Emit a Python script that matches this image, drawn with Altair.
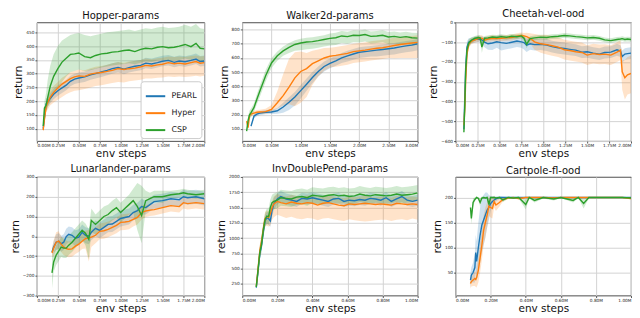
import altair as alt
import pandas as pd

SERIES = ["PEARL", "Hyper", "CSP"]
COLORS = ["#1f77b4", "#ff7f0e", "#2ca02c"]

# ---------------- Hopper-params ----------------
HOP_X = [0.075,0.09,0.11,0.13,0.16,0.2,0.25,0.3,0.35,0.4,0.45,0.5,0.57,0.64,0.7,0.77,0.84,0.9,0.97,1.04,1.1,1.17,1.24,1.3,1.37,1.44,1.5,1.57,1.64,1.7,1.77,1.84,1.9,1.95,2.0]
HOP_PEARL = [100,140,190,198,210,225,238,248,258,272,280,284,288,296,300,306,312,318,322,316,322,327,330,338,335,340,345,348,341,346,343,348,353,344,346]
HOP_PEARL_DN = [8,15,20,18,18,18,18,18,18,18,18,18,18,18,18,18,18,18,18,18,18,18,18,18,18,18,18,18,18,18,18,18,18,18,18]
HOP_PEARL_UP = [10,15,20,18,20,20,20,20,20,20,20,20,20,20,20,20,20,20,20,20,20,20,20,20,20,20,20,20,20,20,20,20,20,20,20]
HOP_HYPER = [95,135,180,195,215,232,248,262,272,282,288,292,290,298,302,304,308,312,318,315,318,320,325,330,328,332,334,340,336,338,335,340,344,338,340]
HOP_HYPER_DN = [6,20,20,25,30,37,43,47,47,50,50,52,46,48,47,46,46,46,48,47,46,45,47,48,46,47,48,50,48,48,47,50,52,48,48]
HOP_HYPER_UP = [10,15,20,20,25,23,22,23,23,23,22,23,22,22,23,24,24,26,24,25,26,26,25,25,24,24,24,22,24,24,25,24,22,24,24]
HOP_CSP = [110,175,185,215,255,290,318,342,356,370,372,375,362,358,366,372,374,378,380,384,386,380,388,392,390,396,398,394,396,400,406,398,410,392,390]
HOP_CSP_DN = [10,25,25,35,55,65,68,72,66,65,62,60,52,46,48,50,48,48,48,49,48,46,48,48,48,48,48,48,48,50,51,48,52,47,48]
HOP_CSP_UP = [15,25,45,65,75,80,82,78,74,70,73,73,78,78,74,73,76,74,75,74,74,75,72,73,72,72,72,72,72,70,72,72,70,73,72]

# ---------------- Walker2d-params ----------------
WAL_X = [0.075,0.1,0.125,0.15,0.2,0.25,0.3,0.4,0.5,0.6,0.7,0.8,0.9,1.0,1.1,1.2,1.3,1.4,1.5,1.6,1.7,1.8,1.9,2.0,2.1,2.2,2.3,2.4,2.5,2.6,2.7,2.8,2.9,3.0]
WAL_PEARL = [None,None,None,120,190,205,212,218,220,228,255,288,325,370,415,462,505,540,562,580,600,615,628,640,645,650,655,660,665,670,678,685,690,700]
WAL_PEARL_DN = [0,0,0,10,15,15,15,15,15,20,40,55,60,55,45,40,35,35,35,35,35,40,40,40,40,40,45,45,45,45,45,45,45,45]
WAL_PEARL_UP = [0,0,0,10,15,15,15,15,15,20,30,35,35,40,40,40,35,35,35,35,35,35,35,35,35,35,35,35,35,35,35,35,35,35]
WAL_HYPER = [155,110,195,205,212,218,220,222,238,285,335,395,460,505,525,560,580,600,612,618,625,632,645,650,655,662,668,672,680,688,695,700,705,710]
WAL_HYPER_DN = [10,15,15,15,15,15,15,15,20,40,70,120,200,220,200,150,110,90,80,80,80,80,80,80,80,80,80,80,80,90,95,100,105,110]
WAL_HYPER_UP = [10,15,15,15,15,15,15,20,30,80,150,200,180,140,110,90,80,70,60,60,60,60,55,55,55,55,55,55,55,55,50,50,50,50]
WAL_CSP = [85,160,200,215,250,310,365,475,565,615,650,675,695,705,712,715,722,730,738,742,755,750,760,758,765,752,755,760,748,752,745,750,742,740]
WAL_CSP_DN = [10,30,30,30,30,35,40,40,35,35,35,40,45,50,50,50,50,50,50,50,50,50,50,50,50,50,50,50,50,50,50,50,50,50]
WAL_CSP_UP = [10,30,30,30,30,35,40,40,35,30,30,30,30,30,30,30,30,30,35,35,35,35,35,35,35,35,35,35,35,35,35,35,35,35]

# ---------------- Cheetah-vel-ood ----------------
CHE_X = [0.095,0.105,0.115,0.13,0.15,0.18,0.22,0.26,0.28,0.3,0.33,0.37,0.42,0.47,0.52,0.58,0.64,0.7,0.75,0.78,0.81,0.85,0.9,0.97,1.04,1.1,1.17,1.24,1.3,1.37,1.44,1.5,1.57,1.64,1.7,1.77,1.84,1.88,1.9,1.93,1.96,2.0]
CHE_PEARL = [-540,-380,-230,-125,-100,-92,-86,-84,-86,-88,-100,-108,-104,-98,-102,-106,-100,-94,-98,-102,-115,-108,-112,-110,-114,-122,-128,-132,-136,-140,-150,-148,-155,-160,-152,-150,-138,-145,-172,-160,-158,-155]
CHE_PEARL_SD = [10,40,40,30,20,15,15,15,15,20,25,30,35,30,40,30,30,30,30,35,35,30,30,30,30,30,30,30,30,30,30,30,30,30,30,30,30,30,30,30,30,30]
CHE_HYPER = [-520,-440,-300,-160,-110,-95,-88,-82,-80,-80,-90,-84,-80,-82,-80,-78,-76,-70,-66,-68,-72,-80,-98,-108,-112,-118,-125,-138,-142,-148,-152,-165,-158,-162,-160,-165,-150,-140,-250,-280,-265,-258]
CHE_HYPER_DN = [20,40,40,30,20,15,15,15,15,15,15,15,15,15,15,15,15,15,15,15,20,25,40,45,50,50,50,50,50,50,50,50,50,50,50,50,50,50,90,110,100,100]
CHE_HYPER_UP = [20,40,40,30,20,15,15,15,15,15,15,15,15,15,15,15,15,15,15,15,20,25,40,45,50,50,50,50,50,50,50,50,50,50,50,50,50,50,60,90,90,90]
CHE_CSP = [-555,-420,-250,-140,-105,-90,-80,-76,-78,-125,-80,-78,-74,-76,-72,-75,-70,-72,-68,-80,-110,-82,-78,-74,-76,-72,-70,-66,-68,-72,-74,-78,-76,-80,-88,-92,-86,-84,-82,-86,-84,-86]
CHE_CSP_SD = [10,40,40,30,20,15,12,12,12,30,12,12,12,12,12,12,12,12,12,15,20,12,12,12,12,12,12,12,12,12,12,12,12,12,12,12,12,12,12,12,12,12]

# ---------------- Lunarlander-params ----------------
LUN_X = [0.18,0.2,0.23,0.26,0.29,0.32,0.35,0.38,0.42,0.46,0.5,0.54,0.58,0.62,0.65,0.7,0.75,0.8,0.85,0.9,0.95,1.0,1.05,1.1,1.15,1.2,1.25,1.3,1.35,1.4,1.5,1.6,1.7,1.75,1.8,1.9,2.0]
LUN_PEARL = [-80,-55,-30,-25,-38,-30,-2,10,5,-10,-5,20,5,0,20,40,30,45,60,62,75,90,95,100,120,130,150,145,160,175,180,190,185,200,195,200,190]
LUN_PEARL_SD = [20,30,40,40,40,40,40,40,40,40,40,40,40,40,40,40,40,40,40,40,40,40,40,40,40,40,40,35,35,35,35,35,35,35,35,35,35]
LUN_HYPER = [-85,-60,-30,-25,-40,-55,-62,-66,-64,-50,-40,-25,-12,-8,-4,5,25,28,35,45,55,70,72,75,85,95,120,128,132,135,145,155,150,170,165,170,165]
LUN_HYPER_DN = [20,40,40,40,40,40,40,40,40,40,40,40,50,120,50,40,40,40,40,40,40,40,40,40,35,35,35,30,30,30,30,30,30,30,30,30,30]
LUN_HYPER_UP = [20,40,50,50,40,40,40,40,40,40,40,40,40,40,40,40,40,40,40,40,40,40,40,40,35,35,35,30,30,30,30,30,30,30,30,30,30]
LUN_CSP = [-185,-130,-95,-75,-55,-60,-60,-45,-30,-10,10,30,15,-15,80,60,80,100,110,130,145,120,140,160,180,150,105,180,190,200,200,210,215,220,215,210,215]
LUN_CSP_DN = [80,50,50,50,50,50,50,50,50,50,50,50,60,100,60,50,50,50,50,50,50,50,50,50,60,120,140,50,30,30,30,20,20,20,20,20,20]
LUN_CSP_UP = [80,50,50,50,50,50,50,50,50,50,50,50,50,50,60,50,50,50,50,50,50,50,50,50,60,120,150,50,30,30,30,20,20,20,20,20,20]

# ---------------- InvDoublePend-params ----------------
INV_X = [0.08,0.09,0.1,0.11,0.12,0.13,0.14,0.15,0.16,0.17,0.18,0.2,0.22,0.25,0.28,0.31,0.34,0.37,0.4,0.43,0.46,0.49,0.52,0.55,0.58,0.61,0.64,0.67,0.7,0.73,0.76,0.79,0.82,0.85,0.88,0.91,0.94,0.97,1.0]
INV_PEARL = [190,450,740,880,1100,1280,1330,1320,1280,1450,1560,1640,1680,1640,1620,1600,1650,1640,1660,1640,1620,1600,1640,1650,1600,1620,1610,1630,1620,1650,1640,1620,1660,1600,1640,1680,1620,1600,1620]
INV_PEARL_SD = [30,80,100,100,100,100,100,100,100,100,100,90,90,90,90,90,90,90,90,90,90,90,90,90,90,90,90,90,90,90,90,90,90,90,90,90,90,90,90]
INV_HYPER = [210,500,790,950,1150,1320,1350,1340,1400,1500,1560,1600,1580,1560,1590,1570,1560,1580,1570,1540,1570,1580,1560,1540,1530,1560,1550,1560,1570,1560,1550,1560,1550,1540,1570,1560,1550,1560,1550]
INV_HYPER_DN = [30,80,100,100,100,120,150,150,200,200,220,220,220,230,240,250,250,250,250,250,250,250,250,250,250,250,260,280,300,280,260,260,250,260,270,250,260,240,250]
INV_HYPER_UP = [30,80,100,100,100,100,100,100,100,100,120,120,120,120,120,120,120,120,120,120,120,120,120,120,120,120,120,120,120,120,120,120,120,120,120,120,120,120,120]
INV_CSP = [200,480,760,900,1130,1300,1360,1350,1500,1580,1600,1620,1660,1650,1640,1670,1680,1660,1700,1690,1680,1700,1710,1690,1700,1680,1690,1720,1700,1690,1710,1700,1690,1700,1720,1700,1710,1720,1740]
INV_CSP_SD = [30,100,120,120,120,120,120,130,130,130,130,130,130,130,130,130,130,130,130,130,130,130,130,130,130,130,130,130,130,130,130,130,130,130,130,130,130,130,130]

# ---------------- Cartpole-fl-ood ----------------
CAR_X = [0.085,0.09,0.1,0.11,0.115,0.12,0.13,0.14,0.15,0.16,0.17,0.18,0.19,0.2,0.21,0.22,0.23,0.25,0.27,0.3,0.33,0.36,0.4,0.42,0.45,0.5,0.56,0.6,0.67,0.7,0.73,0.76,0.8,0.85,0.9,0.95,1.0]
CAR_PEARL = [35,45,50,60,90,72,100,125,145,155,165,175,180,188,192,195,197,200,200,200,200,200,200,200,200,200,200,200,200,200,200,200,200,200,200,200,200]
CAR_PEARL_SD = [15,15,20,30,35,40,50,55,55,50,45,35,25,15,10,8,5,3,2,1,1,1,1,1,1,1,1,1,1,1,1,1,1,1,1,1,1]
CAR_HYPER = [28,32,35,38,36,40,55,80,105,135,150,165,183,180,178,192,185,190,196,199,200,198,200,200,200,200,199,200,200,200,200,200,200,200,200,200,198]
CAR_HYPER_SD = [10,10,12,15,15,20,25,30,30,30,30,25,20,20,20,12,12,8,4,2,1,3,1,1,1,1,2,1,1,1,1,1,1,1,1,1,2]
CAR_CSP = [180,158,190,196,198,200,198,190,199,200,199,200,186,200,200,200,199,200,195,200,199,200,186,200,194,200,197,200,194,200,188,200,200,200,200,200,199]
CAR_CSP_SD = [8,12,8,4,3,2,3,8,3,2,2,2,10,2,2,2,2,2,4,2,2,2,10,2,4,2,3,1,4,1,10,1,1,1,1,1,1]

HOP_XT = [0, 0.25, 0.5, 0.75, 1.0, 1.25, 1.5, 1.75, 2.0]
WAL_XT = [0, 0.5, 1.0, 1.5, 2.0, 2.5, 3.0]
SMALL_XT = [0, 0.2, 0.4, 0.6, 0.8, 1.0]

PANELS = [
    ("Hopper-params", HOP_X, [(HOP_PEARL, HOP_PEARL_DN, HOP_PEARL_UP), (HOP_HYPER, HOP_HYPER_DN, HOP_HYPER_UP), (HOP_CSP, HOP_CSP_DN, HOP_CSP_UP)],
     [0, 2.0], HOP_XT, [55, 486], [100, 150, 200, 250, 300, 350, 400, 450]),
    ("Walker2d-params", WAL_X, [(WAL_PEARL, WAL_PEARL_DN, WAL_PEARL_UP), (WAL_HYPER, WAL_HYPER_DN, WAL_HYPER_UP), (WAL_CSP, WAL_CSP_DN, WAL_CSP_UP)],
     [0, 3.0], WAL_XT, [15, 850], [100, 200, 300, 400, 500, 600, 700, 800]),
    ("Cheetah-vel-ood", CHE_X, [(CHE_PEARL, CHE_PEARL_SD, CHE_PEARL_SD), (CHE_HYPER, CHE_HYPER_DN, CHE_HYPER_UP), (CHE_CSP, CHE_CSP_SD, CHE_CSP_SD)],
     [0, 2.0], HOP_XT, [-600, 0], [-600, -500, -400, -300, -200, -100, 0]),
    ("Lunarlander-params", LUN_X, [(LUN_PEARL, LUN_PEARL_SD, LUN_PEARL_SD), (LUN_HYPER, LUN_HYPER_DN, LUN_HYPER_UP), (LUN_CSP, LUN_CSP_DN, LUN_CSP_UP)],
     [0, 2.0], HOP_XT, [-300, 300], [-300, -200, -100, 0, 100, 200, 300]),
    ("InvDoublePend-params", INV_X, [(INV_PEARL, INV_PEARL_SD, INV_PEARL_SD), (INV_HYPER, INV_HYPER_DN, INV_HYPER_UP), (INV_CSP, INV_CSP_SD, INV_CSP_SD)],
     [0, 1.0], SMALL_XT, [60, 2000], [250, 500, 750, 1000, 1250, 1500, 1750, 2000]),
    ("Cartpole-fl-ood", CAR_X, [(CAR_PEARL, CAR_PEARL_SD, CAR_PEARL_SD), (CAR_HYPER, CAR_HYPER_SD, CAR_HYPER_SD), (CAR_CSP, CAR_CSP_SD, CAR_CSP_SD)],
     [0, 1.0], SMALL_XT, [4, 241], [50, 100, 150, 200]),
]

FONT = "DejaVu Sans"


def build_df(xs, series_data):
    rows = []
    for name, (ys, dn, up) in zip(SERIES, series_data):
        if not (len(xs) == len(ys) == len(dn) == len(up)):
            raise ValueError(f"length mismatch {name}: {len(xs)} {len(ys)} {len(dn)} {len(up)}")
        for x, y, d, u in zip(xs, ys, dn, up):
            if y is None:
                continue
            rows.append({"series": name, "x": x, "y": y, "lo": y - d, "hi": y + u})
    return pd.DataFrame(rows)


def panel(idx, title, xs, series_data, xdom, xticks, ydom, yticks):
    df = build_df(xs, series_data)
    w = 168 if idx % 3 == 0 else 176
    xscale = alt.Scale(domain=xdom, nice=False, zero=False)
    yscale = alt.Scale(domain=ydom, nice=False, zero=False)
    cscale = alt.Scale(domain=SERIES, range=COLORS)
    xaxis = alt.Axis(values=xticks, labelExpr="format(datum.value, '.2f') + 'M'", title="env steps",
                     titleFontSize=10.5, titlePadding=1, labelPadding=0.5)
    yaxis = alt.Axis(values=yticks, format="d", title="return")
    if idx == 0:
        legend = alt.Legend(title=None, orient="bottom-right", offset=3, padding=4,
                            fillColor="white", strokeColor="#cccccc", cornerRadius=3,
                            symbolType="stroke", symbolStrokeWidth=2, symbolSize=380,
                            symbolOpacity=1, labelFontSize=8, labelFont=FONT,
                            labelColor="#222222", labelOffset=5, rowPadding=2)
    else:
        legend = None
    base = alt.Chart(df)
    band = base.mark_area(opacity=0.22, clip=True).encode(
        x=alt.X("x:Q", scale=xscale, axis=xaxis),
        y=alt.Y("lo:Q", scale=yscale, axis=yaxis),
        y2="hi:Q",
        color=alt.Color("series:N", scale=cscale, legend=legend),
    )
    line = base.mark_line(strokeWidth=1.4, clip=True).encode(
        x=alt.X("x:Q", scale=xscale, axis=xaxis),
        y=alt.Y("y:Q", scale=yscale, axis=yaxis),
        color=alt.Color("series:N", scale=cscale, legend=legend),
    )
    return alt.layer(band, line).properties(
        width=w, height=119,
        title=alt.TitleParams(title, anchor="middle", fontSize=10, font=FONT, fontWeight=400,
                              color="#111111", offset=1),
    )


charts = [panel(i, *p) for i, p in enumerate(PANELS)]

chart = alt.concat(*charts, columns=3, spacing=alt.RowColnumber(row=36, column=38), bounds="flush").resolve_scale(
    color="independent"
).properties(
    padding={"left": 0, "top": 0, "right": 0, "bottom": 0}
).configure_view(
    stroke="#222222", strokeWidth=0.8
).configure_title(
    fontWeight=400
).configure_axis(
    grid=True, gridColor="#d3d3d3", gridWidth=1, domain=False,
    tickColor="#333333", tickSize=2, tickWidth=0.8,
    labelFontSize=4.3, labelFont=FONT, labelColor="#222222", labelPadding=1,
    titleFontSize=11, titleFont=FONT, titleFontWeight=400, titleColor="#111111", titlePadding=2,
)

chart.save("out.html", embed_options={"renderer": "svg", "actions": False})
